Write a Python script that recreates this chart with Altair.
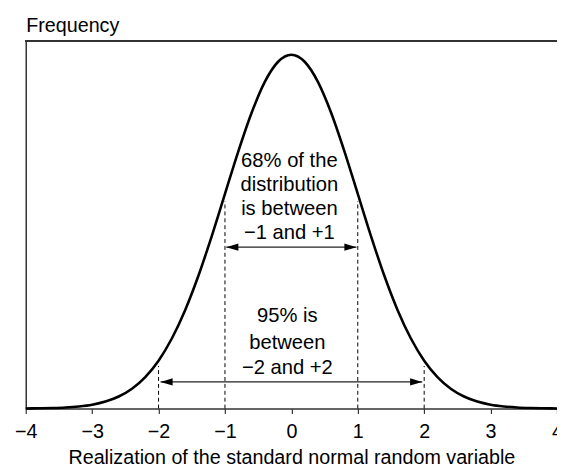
import altair as alt
import pandas as pd

# Standard normal curve
z_values = [-4.0, -3.8, -3.6, -3.4, -3.2, -3.0, -2.8, -2.6, -2.4, -2.2, -2.0,
            -1.8, -1.6, -1.4, -1.2, -1.0, -0.8, -0.6, -0.4, -0.2, 0.0,
            0.2, 0.4, 0.6, 0.8, 1.0, 1.2, 1.4, 1.6, 1.8, 2.0,
            2.2, 2.4, 2.6, 2.8, 3.0, 3.2, 3.4, 3.6, 3.8, 4.0]
frequency = [0.0001, 0.0003, 0.0006, 0.0012, 0.0024, 0.0044, 0.0079, 0.0136, 0.0224, 0.0355, 0.0540,
             0.0790, 0.1109, 0.1497, 0.1942, 0.2420, 0.2897, 0.3332, 0.3683, 0.3910, 0.3989,
             0.3910, 0.3683, 0.3332, 0.2897, 0.2420, 0.1942, 0.1497, 0.1109, 0.0790, 0.0540,
             0.0355, 0.0224, 0.0136, 0.0079, 0.0044, 0.0024, 0.0012, 0.0006, 0.0003, 0.0001]

# Dashed markers
marker_z = [-2, -1, 1, 2]
marker_top = [0.048, 0.234, 0.234, 0.048]

# Double arrows
arrow_from = [-0.98, -1.97]
arrow_to = [0.98, 1.97]
arrow_level = [0.182, 0.030]

# Annotation text lines
note_lines = ["68% of the", "distribution", "is between", "\u22121 and +1",
              "95% is", "between", "\u22122 and +2"]
note_z = [-0.03, -0.03, -0.03, -0.03, -0.06, -0.06, -0.06]
note_level = [0.279, 0.2525, 0.2245, 0.198, 0.1045, 0.0735, 0.0455]

tick_values = [-4, -3, -2, -1, 0, 1, 2, 3, 4]

FONT = "Liberation Sans"
W, H = 539, 373
Y_TOP = 0.4145

curve_df = pd.DataFrame({"z": z_values, "f": frequency})
marker_df = pd.DataFrame({"z": marker_z, "top": marker_top, "base": [0] * 4})
arrow_df = pd.DataFrame({"a": arrow_from, "b": arrow_to, "lvl": arrow_level})
note_df = pd.DataFrame({"z": note_z, "lvl": note_level, "txt": note_lines})

xscale = alt.Scale(domain=[-4, 4], nice=False, zero=False)
yscale = alt.Scale(domain=[0, Y_TOP], nice=False, zero=True)

xaxis = alt.Axis(
    values=tick_values, format="d", tickSize=5, tickColor="#333", tickWidth=1.2,
    domainColor="#333", domainWidth=1.5, grid=False, labelFlush=False,
    labelFont=FONT, labelFontSize=20, labelColor="black", labelPadding=8,
    title="Realization of the standard normal random variable",
    titleFont=FONT, titleFontSize=20, titleFontWeight="normal", titleColor="black",
    titlePadding=7, titleAnchor="middle",
)
yaxis = alt.Axis(
    labels=False, ticks=False, grid=False, domainColor="#333", domainWidth=1.5,
    title="Frequency", titleAngle=0, titleAlign="left", titleBaseline="alphabetic",
    titleX=0, titleY=-10, titleFont=FONT, titleFontSize=20, titleFontWeight="normal",
    titleColor="black",
)

curve = alt.Chart(curve_df).mark_line(color="black", strokeWidth=2.6, interpolate="monotone").encode(
    x=alt.X("z:Q", scale=xscale, axis=xaxis),
    y=alt.Y("f:Q", scale=yscale, axis=yaxis),
)

top_rule = alt.Chart(curve_df).mark_rule(color="#333", strokeWidth=1.5).encode(y=alt.value(0))

markers = alt.Chart(marker_df).mark_rule(color="black", strokeWidth=1, strokeDash=[4, 3]).encode(
    x=alt.X("z:Q", scale=xscale),
    y=alt.Y("base:Q", scale=yscale),
    y2="top:Q",
)

arrow_lines = alt.Chart(arrow_df).mark_rule(color="#222", strokeWidth=1.2).encode(
    x=alt.X("a:Q", scale=xscale),
    x2="b:Q",
    y=alt.Y("lvl:Q", scale=yscale),
)

left_heads = alt.Chart(arrow_df).mark_point(
    shape="M0,0L1,-0.3L1,0.3Z", size=600, filled=True, color="black", opacity=1
).encode(x=alt.X("a:Q", scale=xscale), y=alt.Y("lvl:Q", scale=yscale))

right_heads = alt.Chart(arrow_df).mark_point(
    shape="M0,0L-1,-0.3L-1,0.3Z", size=600, filled=True, color="black", opacity=1
).encode(x=alt.X("b:Q", scale=xscale), y=alt.Y("lvl:Q", scale=yscale))

notes = alt.Chart(note_df).mark_text(
    font=FONT, fontSize=20.5, color="black", align="center", baseline="middle"
).encode(
    x=alt.X("z:Q", scale=xscale),
    y=alt.Y("lvl:Q", scale=yscale),
    text="txt:N",
)

chart = alt.layer(top_rule, markers, arrow_lines, left_heads, right_heads, curve, notes).properties(
    width=W, height=H,
    autosize=alt.AutoSizeParams(type="none"),
    padding={"left": 18, "top": 30, "right": 0, "bottom": 62},
    background="white",
).configure_view(stroke=None)

chart.save("out.html", embed_options={"renderer": "svg", "actions": False})
